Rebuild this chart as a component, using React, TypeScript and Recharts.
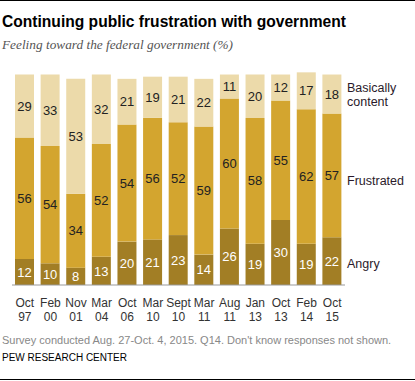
import React from "react";
import { BarChart, Bar, XAxis, YAxis, LabelList } from "recharts";

const months = ["Oct", "Feb", "Nov", "Mar", "Oct", "Mar", "Sept", "Mar", "Aug", "Jan", "Oct", "Feb", "Oct"];
const years = ["97", "00", "01", "04", "06", "10", "10", "11", "11", "13", "13", "14", "15"];
const angry = [12, 10, 8, 13, 20, 21, 23, 14, 26, 19, 30, 19, 22];
const frustrated = [56, 54, 34, 52, 54, 56, 52, 59, 60, 58, 55, 62, 57];
const content = [29, 33, 53, 32, 21, 19, 21, 22, 11, 20, 12, 17, 18];

const data = months.map((m, i) => ({
  key: `${m} ${years[i]}`,
  month: m,
  year: years[i],
  angry: angry[i],
  frustrated: frustrated[i],
  content: content[i],
}));

const FONT = "'Liberation Sans', Arial, sans-serif";

function Tick(props: any) {
  const { x, y, payload } = props;
  const [m, yr] = String(payload.value).split(" ");
  return (
    <g transform={`translate(${x},${y})`}>
      <text textAnchor="middle" fontFamily={FONT} fontSize={12} fill="#333">
        <tspan x={0} dy={14}>{m}</tspan>
        <tspan x={0} dy={14}>{yr}</tspan>
      </text>
    </g>
  );
}

const sideLabel: React.CSSProperties = {
  position: "absolute",
  left: 347,
  fontFamily: FONT,
  fontSize: 12.5,
  color: "#2a1a2a",
  lineHeight: "14px",
};

export default function App() {
  return (
    <div style={{ position: "absolute", left: 0, top: 0, width: 415, height: 381, background: "#fff" }}>
      <div style={{ position: "absolute", left: 0, top: 0, width: 415, height: 1, background: "#000" }} />
      <div style={{ position: "absolute", left: 2, top: 13, fontFamily: FONT, fontWeight: "bold", fontSize: 15.6, color: "#000", whiteSpace: "nowrap" }}>
        Continuing public frustration with government
      </div>
      <div style={{ position: "absolute", left: 2, top: 37, fontFamily: "'Liberation Serif', serif", fontStyle: "italic", fontSize: 13.3, color: "#555", whiteSpace: "nowrap" }}>
        Feeling toward the federal government (%)
      </div>

      <div style={{ position: "absolute", left: 0, top: 0 }}>
        <BarChart
          width={415}
          height={330}
          data={data}
          margin={{ top: 68, right: 70, left: 12, bottom: 0 }}
          barSize={19}
        >
          <YAxis hide domain={[0, 100]} type="number" />
          <XAxis
            dataKey="key"
            height={45}
            interval={0}
            tickLine={false}
            axisLine={{ stroke: "#999" }}
            tick={<Tick />}
          />
          <Bar dataKey="angry" stackId="a" fill="#a27e25" isAnimationActive={false}>
            <LabelList dataKey="angry" position="center" fill="#fff" fontFamily={FONT} fontSize={13} />
          </Bar>
          <Bar dataKey="frustrated" stackId="a" fill="#d3a52f" isAnimationActive={false}>
            <LabelList dataKey="frustrated" position="center" fill="#222" fontFamily={FONT} fontSize={13} />
          </Bar>
          <Bar dataKey="content" stackId="a" fill="#ecdaaa" isAnimationActive={false}>
            <LabelList dataKey="content" position="center" fill="#222" fontFamily={FONT} fontSize={13} />
          </Bar>
        </BarChart>
      </div>

      <div style={{ ...sideLabel, top: 81 }}>
        Basically
        <br />
        content
      </div>
      <div style={{ ...sideLabel, top: 174 }}>Frustrated</div>
      <div style={{ ...sideLabel, top: 257 }}>Angry</div>

      <div style={{ position: "absolute", left: 2, top: 334, fontFamily: FONT, fontSize: 11, color: "#888", whiteSpace: "nowrap" }}>
        Survey conducted Aug. 27-Oct. 4, 2015. Q14. Don&apos;t know responses not shown.
      </div>
      <div style={{ position: "absolute", left: 2, top: 352, fontFamily: FONT, fontSize: 10, color: "#000", whiteSpace: "nowrap" }}>
        PEW RESEARCH CENTER
      </div>
      <div style={{ position: "absolute", left: 0, top: 379, width: 415, height: 1, background: "#000" }} />
    </div>
  );
}
